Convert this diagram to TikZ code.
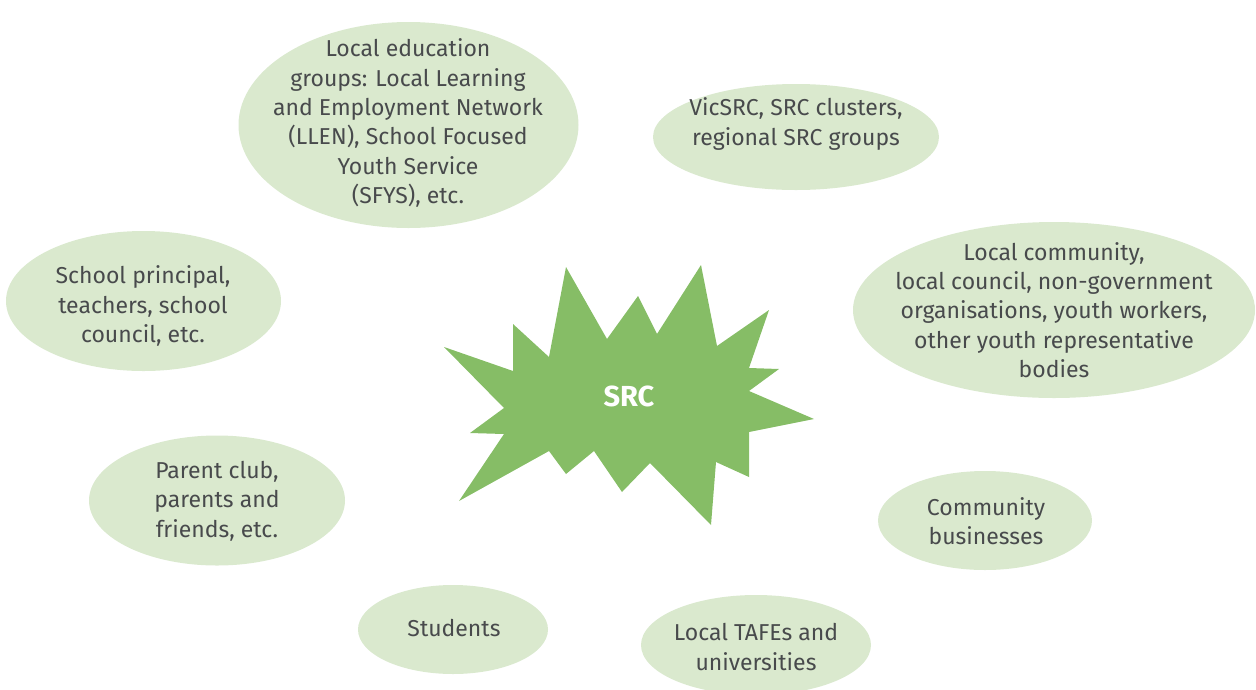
\documentclass[tikz,border=0pt]{standalone}
\usepackage{fontspec}
\setmainfont{Fira Sans}
\usetikzlibrary{shapes.geometric}
\definecolor{bubblefill}{RGB}{218,233,206}
\definecolor{starfill}{RGB}{134,189,102}
\definecolor{txtgray}{RGB}{72,74,76}
\tikzset{
  bubble/.style={ellipse, fill=bubblefill, draw=none, inner sep=0pt},
  lbl/.style={text=txtgray, align=center, font=\fontsize{23}{29.3}\selectfont, inner sep=0pt},
}
\begin{document}
\begin{tikzpicture}[x=1pt,y=-1pt]
\useasboundingbox (0,0) rectangle (1256,689);
% bubbles
\node[bubble, minimum width=340, minimum height=206] (edu) at (408.5,125) {};
\node[bubble, minimum width=286, minimum height=106] (vic) at (796,137) {};
\node[bubble, minimum width=402, minimum height=176] (comm) at (1054,310) {};
\node[bubble, minimum width=275, minimum height=140] (princ) at (143.5,301) {};
\node[bubble, minimum width=256, minimum height=130] (parent) at (217,500.5) {};
\node[bubble, minimum width=214, minimum height=99] (bus) at (985,520.5) {};
\node[bubble, minimum width=190, minimum height=89] (stud) at (453,629.5) {};
\node[bubble, minimum width=230, minimum height=100] (tafe) at (756,645) {};
% labels
\node[lbl] (edut) at (408,123) {Local education\\groups: Local Learning\\and Employment Network\\(LLEN), School Focused\\Youth Service\\(SFYS), etc.};
\node[lbl] (vict) at (796,124) {VicSRC, SRC clusters,\\regional SRC groups};
\node[lbl] (commt) at (1054,310) {Local community,\\local council, non-government\\organisations, youth workers,\\other youth representative\\bodies};
\node[lbl] (princt) at (143,306) {School principal,\\teachers, school\\council, etc.};
\node[lbl] (parentt) at (217,501) {Parent club,\\parents and\\friends, etc.};
\node[lbl] (bust) at (986,521) {Community\\businesses};
\node[lbl] (studt) at (454,628) {Students};
\node[lbl] (tafet) at (756,647) {Local TAFEs and\\universities};
% star
\fill[starfill] (444,347) -- (513,371) -- (513,324) -- (549,357) -- (566,267) -- (607,339)
  -- (638,296) -- (657,334) -- (701,265) -- (717,346) -- (769,310) -- (749,368)
  -- (779,369) -- (749,391) -- (814,419) -- (749,432) -- (749,477) -- (716,462)
  -- (711,525) -- (650,463) -- (622,492) -- (594,451) -- (566,474) -- (549,451)
  -- (459,501) -- (504,434) -- (470,433) -- (504,408) -- cycle;
\node[text=white, font=\fontsize{29}{34}\selectfont\bfseries, inner sep=0pt] (src) at (629,396) {SRC};
\end{tikzpicture}
\end{document}
